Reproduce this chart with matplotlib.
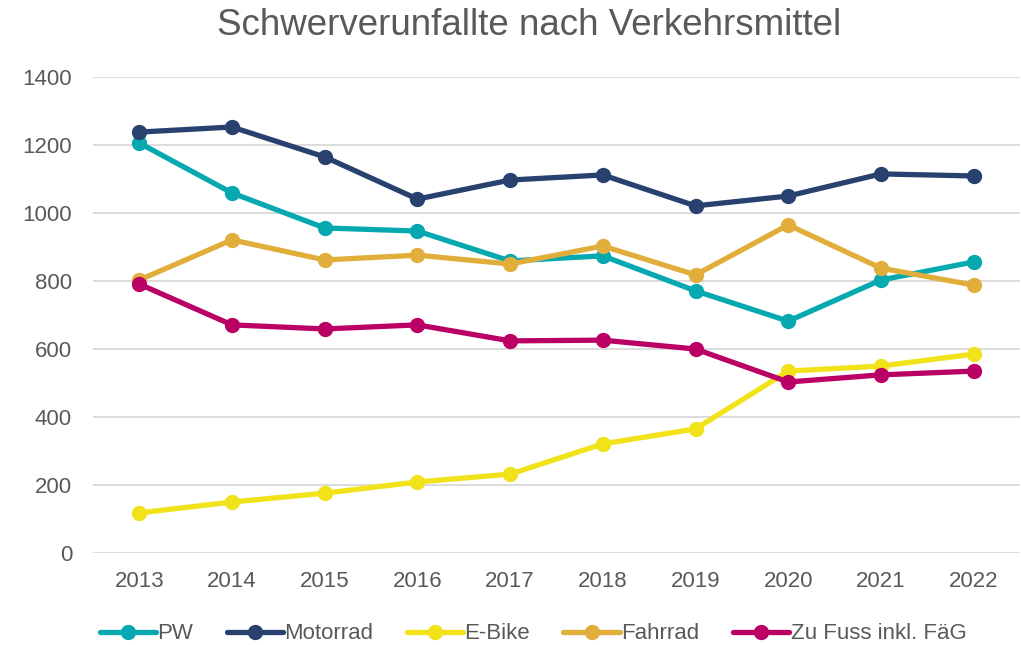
import matplotlib
matplotlib.use("Agg")
import matplotlib.pyplot as plt

# --- data ---
years = ["2013", "2014", "2015", "2016", "2017", "2018", "2019", "2020", "2021", "2022"]
pw = [1206, 1059, 956, 947, 859, 874, 771, 682, 803, 856]
motorrad = [1238, 1253, 1165, 1041, 1097, 1112, 1021, 1050, 1115, 1109]
ebike = [118, 150, 176, 209, 232, 321, 365, 535, 550, 585]
fahrrad = [803, 921, 862, 876, 850, 903, 818, 965, 838, 788]
zu_fuss = [791, 671, 659, 671, 624, 626, 600, 503, 524, 535]

series = [
    ("PW", pw, "#06A9B0"),
    ("Motorrad", motorrad, "#28416F"),
    ("E-Bike", ebike, "#F1E21A"),
    ("Fahrrad", fahrrad, "#E2AE3B"),
    ("Zu Fuss inkl. FäG", zu_fuss, "#BB0065"),
]

plt.rcParams["font.family"] = ["Liberation Sans", "DejaVu Sans"]
text_col = "#595959"

fig = plt.figure(figsize=(10.21, 6.45), dpi=100)
ax = fig.add_axes([0.091, 0.1426, 0.908, 0.738])

x = list(range(len(years)))
for name, vals, col in series:
    ax.plot(x, vals, color=col, linewidth=3.8, marker="o", markersize=10,
            label=name, solid_capstyle="round", zorder=3)

ax.set_xlim(-0.5, len(years) - 0.5)
ax.set_ylim(0, 1400)
ax.set_yticks(range(0, 1401, 200))
ax.set_xticks(x)
ax.set_xticklabels(years)
ax.grid(axis="y", color="#D9D9D9", linewidth=1.3, zorder=0)
ax.set_axisbelow(True)
for s in ax.spines.values():
    s.set_visible(False)
ax.tick_params(axis="both", length=0, labelsize=16, colors=text_col)
ax.tick_params(axis="x", pad=13)
ax.tick_params(axis="y", pad=15)

fig.suptitle("Schwerverunfallte nach Verkehrsmittel", fontsize=26.5,
             color=text_col, x=0.518, y=0.988, va="top")

fig.legend(loc="lower center", bbox_to_anchor=(0.522, -0.03), ncol=5,
           frameon=False, fontsize=16, handlelength=2.55, columnspacing=1.5,
           handletextpad=0.05, labelcolor=text_col)

fig.savefig("out.png", dpi=100)
